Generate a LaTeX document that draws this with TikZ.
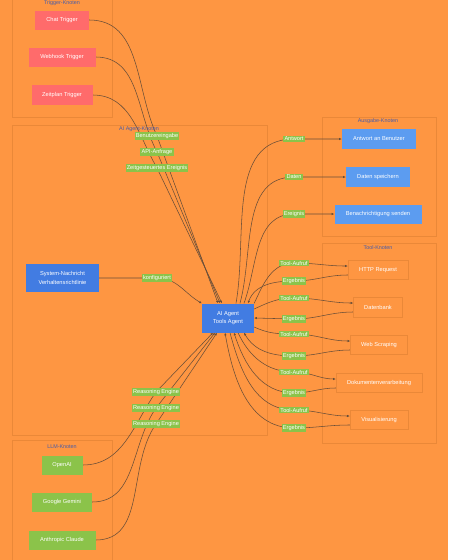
\documentclass[tikz,border=0pt]{standalone}
\usepackage{fontspec}
\setmainfont{Liberation Sans}
\usetikzlibrary{calc,arrows.meta,backgrounds}
\definecolor{agbg}{RGB}{254,150,66}
\definecolor{agframe}{RGB}{234,136,56}
\definecolor{agred}{RGB}{255,107,107}
\definecolor{agblue}{RGB}{66,124,226}
\definecolor{agsky}{RGB}{92,156,240}
\definecolor{aggreen}{RGB}{139,195,74}
\definecolor{agline}{RGB}{105,78,56}
\definecolor{agtitle}{RGB}{72,92,168}

\begin{document}
\begin{tikzpicture}[x=1pt,y=1pt,
  font=\fontsize{5.7}{8.5}\selectfont,
  trig/.style={fill=agred,text=white,minimum height=19pt,inner sep=0pt},
  agt/.style={fill=agblue,text=white,align=center,inner sep=0pt},
  outn/.style={fill=agsky,text=white,minimum height=20pt,inner sep=0pt},
  tooln/.style={draw=agframe,fill=agbg,text=white,minimum height=19pt,inner sep=0pt},
  llm/.style={fill=aggreen,text=white,minimum height=19pt,inner sep=0pt},
  lbl/.style={fill=aggreen,text=white,font=\fontsize{5.6}{6}\selectfont,inner sep=1.3pt},
  grp/.style={draw=agframe,line width=0.6pt},
  grptitle/.style={text=agtitle,font=\fontsize{5.4}{6}\selectfont},
  flow/.style={agline,line width=0.55pt},
  arr/.style={flow,-{Latex[length=2.6pt,width=2.4pt]}}]

\useasboundingbox (0,0) rectangle (448,-560);

% group titles
\node[grptitle] (ttrig) at (62,-3) {Trigger-Knoten};
\node[grptitle] (tagent) at (139,-129) {AI Agent-Knoten};
\node[grptitle] (tllm) at (62,-447) {LLM-Knoten};
\node[grptitle] (tout) at (378,-121) {Ausgabe-Knoten};
\node[grptitle] (ttool) at (378,-248) {Tool-Knoten};

\node[trig,minimum width=54pt] (chat) at (62,-20) {Chat Trigger};
\node[trig,minimum width=67pt] (webhook) at (62,-57) {Webhook Trigger};
\node[trig,minimum width=61pt,minimum height=20pt] (zeitplan) at (62,-95) {Zeitplan Trigger};

\node[agt,minimum width=73pt,minimum height=28pt] (sysmsg) at (62.5,-278) {System-Nachricht\\Verhaltensrichtlinie};
\node[agt,minimum width=52pt,minimum height=29pt] (agent) at (228,-318) {AI Agent\\Tools Agent};

\node[llm,minimum width=41pt] (openai) at (62,-465) {OpenAI};
\node[llm,minimum width=60pt] (gemini) at (62,-502) {Google Gemini};
\node[llm,minimum width=67pt] (claude) at (62,-540) {Anthropic Claude};

\node[outn,minimum width=74pt] (antwort) at (379,-139) {Antwort an Benutzer};
\node[outn,minimum width=64pt] (speichern) at (378,-177) {Daten speichern};
\node[outn,minimum width=87pt,minimum height=19pt] (benach) at (378,-214) {Benachrichtigung senden};

\node[tooln,minimum width=60pt] (http) at (378,-270) {HTTP Request};
\node[tooln,minimum width=49pt,minimum height=20pt] (db) at (378,-307) {Datenbank};
\node[tooln,minimum width=57pt] (web) at (379,-345) {Web Scraping};
\node[tooln,minimum width=86pt] (doc) at (379,-383) {Dokumentenverarbeitung};
\node[tooln,minimum width=58pt] (vis) at (379,-420) {Visualisierung};

% edge labels
\node[lbl] (lbenutz) at (157,-136) {Benutzereingabe};
\node[lbl] (lapi) at (157,-152) {API-Anfrage};
\node[lbl] (lzeit) at (157,-168) {Zeitgesteuertes Ereignis};
\node[lbl] (lkonf) at (157,-278) {konfiguriert};
\node[lbl] (lre1) at (156,-392) {Reasoning Engine};
\node[lbl] (lre2) at (156,-408) {Reasoning Engine};
\node[lbl] (lre3) at (156,-424) {Reasoning Engine};
\node[lbl] (lantw) at (294,-139) {Antwort};
\node[lbl] (ldaten) at (294,-177) {Daten};
\node[lbl] (lereig) at (294,-214) {Ereignis};
\node[lbl] (lta1) at (294,-263) {Tool-Aufruf};
\node[lbl] (ler1) at (294,-281) {Ergebnis};
\node[lbl] (lta2) at (294,-298) {Tool-Aufruf};
\node[lbl] (ler2) at (294,-319) {Ergebnis};
\node[lbl] (lta3) at (294,-334) {Tool-Aufruf};
\node[lbl] (ler3) at (294,-356) {Ergebnis};
\node[lbl] (lta4) at (294,-372) {Tool-Aufruf};
\node[lbl] (ler4) at (294,-393) {Ergebnis};
\node[lbl] (lta5) at (294,-410) {Tool-Aufruf};
\node[lbl] (ler5) at (294,-428) {Ergebnis};

\begin{scope}[on background layer]
\fill[agbg] (0,0) rectangle (448,-560);
\draw[grp] (12,2) rectangle (112,-117);
\draw[grp] (12,-125) rectangle (267,-435);
\draw[grp] (12,-440) rectangle (112,-570);
\draw[grp] (322,-117) rectangle (436,-236);
\draw[grp] (322,-243) rectangle (436,-443);

% triggers into the agent
\draw[arr] (chat.east) to[out=0,in=115] (lbenutz.center) -- ([xshift=-10pt]agent.north);
\draw[arr] (webhook.east) to[out=0,in=118] (lapi.center) -- ([xshift=-8pt]agent.north);
\draw[arr] (zeitplan.east) to[out=0,in=120] (lzeit.center) -- ([xshift=-6pt]agent.north);
\draw[arr] (sysmsg.east) -- (lkonf.center) to[out=0,in=150] (agent.north west);

% models
\draw[arr] (openai.east) to[out=0,in=-125] (lre1.center) -- ([xshift=-15pt]agent.south);
\draw[arr] (gemini.east) to[out=0,in=-125] (lre2.center) -- ([xshift=-13pt]agent.south);
\draw[arr] (claude.east) to[out=0,in=-125] (lre3.center) -- ([xshift=-11pt]agent.south);

% outputs
\draw[arr] ([xshift=8pt]agent.north) to[out=80,in=180] (lantw.center) -- (antwort.west);
\draw[arr] ([xshift=12pt]agent.north) to[out=75,in=180] (ldaten.center) -- (speichern.west);
\draw[arr] ([xshift=16pt]agent.north) to[out=70,in=180] (lereig.center) -- (benach.west);

% tools
\draw[arr] (agent.north east) to[out=65,in=180] (lta1.center) to[out=0,in=180] ([yshift=4pt]http.west);
\draw[arr] ([yshift=-5pt]http.west) to[out=180,in=0] (ler1.center) to[out=180,in=70] ([xshift=20pt]agent.north);
\draw[arr] ([yshift=9pt]agent.east) to[out=25,in=180] (lta2.center) to[out=0,in=180] ([yshift=4pt]db.west);
\draw[arr] ([yshift=-5pt]db.west) to[out=180,in=0] (ler2.center) -- (agent.east);
\draw[arr] ([yshift=-9pt]agent.east) to[out=-25,in=180] (lta3.center) to[out=0,in=180] ([yshift=4pt]web.west);
\draw[arr] ([yshift=-5pt]web.west) to[out=180,in=0] (ler3.center) to[out=180,in=-60] ([xshift=16pt]agent.south);
\draw[arr] ([xshift=10pt]agent.south) to[out=-65,in=180] (lta4.center) to[out=0,in=180] ([yshift=4pt]doc.west);
\draw[arr] ([yshift=-5pt]doc.west) to[out=180,in=0] (ler4.center) to[out=180,in=-72] ([xshift=6pt]agent.south);
\draw[arr] ([xshift=2pt]agent.south) to[out=-75,in=180] (lta5.center) to[out=0,in=180] ([yshift=4pt]vis.west);
\draw[arr] ([yshift=-5pt]vis.west) to[out=180,in=0] (ler5.center) to[out=180,in=-80] ([xshift=-3pt]agent.south);
\end{scope}
\end{tikzpicture}
\end{document}
